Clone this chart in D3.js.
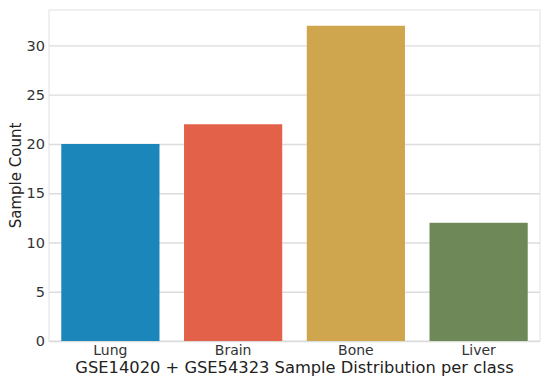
<!DOCTYPE html>
<html>
<head>
<meta charset="utf-8">
<script src="https://cdn.jsdelivr.net/npm/d3@7"></script>
<style>
  body { margin: 0; background: #fff; }
  svg { display: block; font-family: "DejaVu Sans", sans-serif; }
</style>
</head>
<body>
<div id="chart-root"></div>
<script>
// data
var classes = ["Lung", "Brain", "Bone", "Liver"];
var counts = [20, 22, 32, 12];
var colors = ["#1b86ba", "#e36149", "#cfa64e", "#6e8857"];
var yTicks = [0, 5, 10, 15, 20, 25, 30];

var W = 550, H = 383;
var margin = { top: 10, right: 10, bottom: 42, left: 49 },
    width = W - margin.left - margin.right,
    height = H - margin.top - margin.bottom;

var svg = d3.select("#chart-root")
    .append("svg")
    .attr("width", W)
    .attr("height", H);

var g = svg.append("g")
    .attr("transform", "translate(" + margin.left + "," + margin.top + ")");

// x: band scale, bars take 0.8 of each slot
var x = d3.scaleBand()
    .domain(classes)
    .range([0, width])
    .paddingInner(0.2)
    .paddingOuter(0.1);

var y = d3.scaleLinear()
    .domain([0, d3.max(counts) * 1.05])
    .range([height, 0]);

// frame
g.append("rect")
    .attr("x", 0).attr("y", 0)
    .attr("width", width).attr("height", height)
    .attr("fill", "none")
    .attr("stroke", "#ececec")
    .attr("stroke-width", 1.5);

// grid + y axis
var yAxis = g.append("g")
    .call(d3.axisLeft(y).tickValues(yTicks).tickSize(-width).tickPadding(4))
    .attr("font-family", "DejaVu Sans")
    .attr("font-size", 14.5);
yAxis.select(".domain").remove();
yAxis.selectAll(".tick line")
    .attr("stroke", "#dcdcdc")
    .attr("stroke-width", 1.3);
yAxis.selectAll(".tick text")
    .attr("fill", "#333");

// bars
g.selectAll(".bar")
    .data(classes)
    .enter().append("rect")
    .attr("class", "bar")
    .attr("x", function(d) { return x(d); })
    .attr("width", x.bandwidth())
    .attr("y", function(d, i) { return y(counts[i]); })
    .attr("height", function(d, i) { return y(0) - y(counts[i]); })
    .attr("fill", function(d, i) { return colors[i]; });

// x axis
var xAxis = g.append("g")
    .attr("transform", "translate(0," + height + ")")
    .call(d3.axisBottom(x).tickSize(0).tickPadding(4))
    .attr("font-family", "DejaVu Sans")
    .attr("font-size", 14);
xAxis.select(".domain").remove();
xAxis.selectAll(".tick text")
    .attr("fill", "#333");

// labels
svg.append("text")
    .attr("x", margin.left + width / 2)
    .attr("y", 373)
    .attr("text-anchor", "middle")
    .attr("fill", "#222")
    .style("font-size", "16.3px")
    .text("GSE14020 + GSE54323 Sample Distribution per class");

svg.append("text")
    .attr("transform", "translate(21," + (margin.top + height / 2) + ") rotate(-90)")
    .attr("text-anchor", "middle")
    .attr("fill", "#222")
    .style("font-size", "15px")
    .text("Sample Count");
</script>
</body>
</html>
